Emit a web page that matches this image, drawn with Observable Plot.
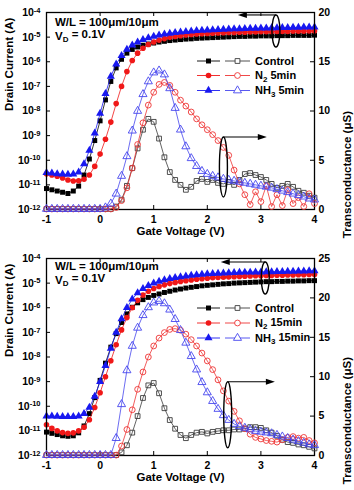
<!DOCTYPE html>
<html><head><meta charset="utf-8">
<script src="https://cdn.jsdelivr.net/npm/d3@7"></script>
<script src="https://cdn.jsdelivr.net/npm/@observablehq/plot@0.6"></script>
<style>
body{margin:0;background:#fff;}
.panel{position:relative;width:354px;height:245px;}
.panel svg{position:absolute;left:0;top:0;}
</style></head><body>
<div id="p1" class="panel"></div>
<div id="p2" class="panel"></div>
<script>
// ---------- data ----------
const gateV = [-1,-0.9,-0.8,-0.7,-0.6,-0.5,-0.4,-0.3,-0.2,-0.1,0,0.1,0.2,0.3,0.4,0.5,0.6,0.7,0.8,0.9,1,1.1,1.2,1.3,1.4,1.5,1.6,1.7,1.8,1.9,2,2.1,2.2,2.3,2.4,2.5,2.6,2.7,2.8,2.9,3,3.1,3.2,3.3,3.4,3.5,3.6,3.7,3.8,3.9,4];
const xTickValues = [-1,0,1,2,3,4];
const idTickValues = [1e-12,1e-11,1e-10,1e-9,1e-8,1e-7,1e-6,1e-5,1e-4];
const gmTicksTop = [0,5,10,15,20];
const gmTicksBottom = [0,5,10,15,20,25];

// top panel: drain current, log10(A)
const topIdControl = [-11.15,-11.2,-11.25,-11.3,-11.35,-11.25,-11.05,-10.6,-9.95,-9.2,-8.4,-7.55,-6.8,-6.25,-5.9,-5.65,-5.5,-5.4,-5.33,-5.28,-5.24,-5.2,-5.17,-5.14,-5.12,-5.1,-5.08,-5.07,-5.05,-5.04,-5.03,-5.02,-5.01,-5.0,-4.99,-4.98,-4.97,-4.97,-4.96,-4.96,-4.95,-4.95,-4.95,-4.94,-4.94,-4.94,-4.93,-4.93,-4.93,-4.93,-4.92];
const topIdN2 = [-10.55,-10.6,-10.65,-10.72,-10.8,-10.84,-10.83,-10.77,-10.6,-10.25,-9.75,-9.15,-8.45,-7.7,-7.0,-6.4,-5.95,-5.65,-5.45,-5.3,-5.2,-5.12,-5.06,-5.01,-4.97,-4.94,-4.91,-4.89,-4.87,-4.86,-4.85,-4.84,-4.83,-4.82,-4.81,-4.81,-4.8,-4.8,-4.79,-4.79,-4.78,-4.78,-4.78,-4.77,-4.77,-4.77,-4.76,-4.76,-4.76,-4.75,-4.75];
const topIdNH3 = [-10.5,-10.52,-10.55,-10.57,-10.58,-10.57,-10.48,-10.15,-9.6,-8.9,-8.1,-7.3,-6.6,-6.1,-5.75,-5.5,-5.33,-5.2,-5.1,-5.03,-4.97,-4.92,-4.88,-4.85,-4.82,-4.8,-4.78,-4.76,-4.74,-4.73,-4.72,-4.71,-4.7,-4.69,-4.68,-4.67,-4.67,-4.66,-4.65,-4.65,-4.64,-4.64,-4.63,-4.63,-4.62,-4.62,-4.61,-4.61,-4.6,-4.6,-4.6];
// top panel: transconductance (uS)
const topGmControl = [0.05,0.05,0.05,0.05,0.05,0.05,0.05,0.05,0.05,0.05,0.05,0.05,0.05,0.3,1.0,2.4,4.2,6.2,8.1,9.2,8.9,7.2,5.3,3.8,3.0,2.5,2.0,2.3,2.9,3.1,2.8,3.0,2.7,2.6,2.8,2.5,3.0,3.6,3.7,3.5,3.3,3.0,2.6,2.2,2.4,2.6,2.3,1.9,1.7,1.4,1.2];
const topGmN2 = [0.05,0.05,0.05,0.05,0.05,0.05,0.05,0.05,0.05,0.05,0.05,0.05,0.05,0.2,0.9,2.2,4.2,6.6,8.8,10.6,11.9,12.7,12.9,12.6,11.9,11.1,10.5,9.9,9.2,8.6,8.1,7.6,7.0,6.3,5.5,4.0,2.6,1.5,0.5,1.8,0.8,2.4,0.3,1.5,0.4,2.0,0.6,1.2,0.3,1.6,0.6];
const topGmNH3 = [0.05,0.05,0.05,0.05,0.05,0.05,0.05,0.05,0.05,0.05,0.05,0.2,0.6,1.6,3.4,5.4,8.0,10.0,11.7,13.0,13.9,14.1,13.7,12.3,10.3,8.1,6.4,5.2,4.4,3.9,3.6,3.4,3.25,3.1,3.0,2.9,2.8,2.7,2.6,2.5,2.4,2.3,2.2,2.05,1.9,1.75,1.6,1.45,1.3,1.1,1.0];

// bottom panel: drain current, log10(A)
const botIdControl = [-11.05,-11.1,-11.15,-11.2,-11.22,-11.2,-11.08,-10.8,-10.3,-9.65,-8.95,-8.25,-7.6,-7.05,-6.6,-6.25,-5.98,-5.8,-5.67,-5.58,-5.5,-5.44,-5.38,-5.33,-5.28,-5.24,-5.2,-5.17,-5.14,-5.11,-5.09,-5.07,-5.05,-5.03,-5.02,-5.0,-4.99,-4.98,-4.97,-4.96,-4.95,-4.94,-4.94,-4.93,-4.93,-4.92,-4.92,-4.91,-4.91,-4.9,-4.9];
const botIdN2 = [-10.75,-10.9,-11.0,-11.07,-11.1,-11.08,-11.0,-10.85,-10.55,-10.05,-9.45,-8.8,-8.15,-7.5,-6.9,-6.4,-6.0,-5.7,-5.48,-5.33,-5.22,-5.14,-5.07,-5.02,-4.97,-4.93,-4.9,-4.87,-4.84,-4.82,-4.8,-4.78,-4.77,-4.76,-4.75,-4.74,-4.73,-4.72,-4.71,-4.7,-4.7,-4.69,-4.69,-4.68,-4.68,-4.67,-4.67,-4.66,-4.66,-4.65,-4.65];
const botIdNH3 = [-10.4,-10.4,-10.41,-10.42,-10.42,-10.42,-10.4,-10.3,-10.05,-9.6,-9.0,-8.35,-7.65,-7.0,-6.45,-6.0,-5.65,-5.4,-5.22,-5.1,-5.0,-4.93,-4.87,-4.82,-4.78,-4.75,-4.72,-4.69,-4.67,-4.65,-4.63,-4.62,-4.61,-4.6,-4.59,-4.58,-4.57,-4.56,-4.56,-4.55,-4.55,-4.54,-4.54,-4.53,-4.53,-4.52,-4.52,-4.51,-4.51,-4.5,-4.5];
// bottom panel: transconductance (uS)
const botGmControl = [0.05,0.05,0.05,0.05,0.05,0.05,0.05,0.05,0.05,0.05,0.05,0.05,0.05,0.05,0.4,1.3,2.9,5.0,7.3,8.9,9.2,7.9,6.0,4.5,3.4,2.6,2.2,2.6,2.9,3.0,2.8,3.0,3.1,3.2,3.2,3.3,3.3,3.4,3.6,3.6,3.5,3.2,2.9,2.5,2.0,1.7,1.6,1.4,1.3,1.1,0.9];
const botGmN2 = [0.05,0.05,0.05,0.05,0.05,0.05,0.05,0.05,0.05,0.05,0.05,0.05,0.05,0.05,1.2,3.3,5.8,8.4,10.6,12.5,13.9,14.9,15.6,16.0,16.1,15.9,15.4,14.7,13.9,13.0,12.0,10.9,9.6,8.2,6.9,5.6,4.4,3.4,2.7,2.3,2.1,1.9,1.8,1.7,2.0,2.3,2.4,2.2,2.3,1.9,1.6];
const botGmNH3 = [0.05,0.05,0.05,0.05,0.05,0.05,0.05,0.05,0.05,0.05,0.05,0.05,0.05,2.2,6.5,10.8,13.9,16.2,17.8,18.8,19.4,19.6,19.3,18.5,17.3,15.9,14.3,12.6,10.9,9.3,8.0,6.9,5.9,5.1,4.5,4.0,3.7,3.5,3.3,3.1,3.0,2.9,2.8,2.6,2.4,2.2,2.0,1.8,1.6,1.4,1.3];

const legendTop = [["Control"],["N","2"," 5min"],["NH","3"," 5min"]];
const legendBottom = [["Control"],["N","2"," 15min"],["NH","3"," 15min"]];

// ---------- drawing ----------
const FONT = '"Liberation Sans", Arial, Helvetica, sans-serif';
const SERIES = [
  {fill:"#000000", open:"#3c3c3c", symbol:"square",   d3sym:d3.symbolSquare,   rf:2.8, ro:2.7},
  {fill:"#f01818", open:"#ee3434", symbol:"circle",   d3sym:d3.symbolCircle,   rf:2.8, ro:2.9},
  {fill:"#1818f0", open:"#4646ee", symbol:"triangle", d3sym:d3.symbolTriangle, rf:3.0, ro:3.0}
];

function drawPanel(host, cfg) {
  const W = 354, H = 245, ml = 46, mr = 40, mt = cfg.mt, mb = cfg.mb;
  const iw = W - ml - mr, ih = H - mt - mb;
  const dims = {width: W, height: H, marginLeft: ml, marginRight: mr, marginTop: mt, marginBottom: mb};
  const font = {fontFamily: FONT, fontWeight: "bold", fontSize: "10.5px", overflow: "visible", color: "black"};
  const idMarks = [], gmMarks = [];
  SERIES.forEach((s, k) => {
    const idData = gateV.map((v, i) => ({V: v, I: Math.pow(10, cfg.id[k][i])}));
    const gmData = gateV.map((v, i) => ({V: v, G: cfg.gm[k][i]}));
    idMarks.push(Plot.line(idData, {x: "V", y: "I", stroke: s.fill, strokeWidth: 0.8}));
    idMarks.push(Plot.dot(idData, {x: "V", y: "I", symbol: s.symbol, r: s.rf, fill: s.fill, stroke: "none"}));
    gmMarks.push(Plot.line(gmData, {x: "V", y: "G", stroke: s.open, strokeWidth: 0.8}));
    gmMarks.push(Plot.dot(gmData, {x: "V", y: "G", symbol: s.symbol, r: s.ro, fill: "none", stroke: s.open, strokeWidth: 0.9}));
  });

  const idPlot = Plot.plot({
    ...dims, style: {...font, background: "white"},
    x: {domain: [-1, 4]},
    y: {type: "log", domain: [1e-12, 1e-4]},
    marks: [
      Plot.axisX(xTickValues, {tickSize: 0, tickPadding: 6, tickFormat: d => String(d), label: null}),
      Plot.axisY(idTickValues, {tickSize: 0, tickPadding: 6, tickFormat: d => "10|" + Math.round(Math.log10(d)), label: null}),
      Plot.ruleX(xTickValues, {insetTop: ih - 4, stroke: "black"}),
      Plot.ruleX(xTickValues, {insetBottom: ih - 4, stroke: "black"}),
      Plot.ruleY(idTickValues, {insetRight: iw - 4, stroke: "black"}),
      ...idMarks,
      Plot.frame({stroke: "black", strokeWidth: 1.3}),
      Plot.text(["Drain Current (A)"], {frameAnchor: "left", dx: -37, rotate: -90, fontSize: 11.5}),
      Plot.text(["Gate Voltage (V)"], {frameAnchor: "bottom", dy: 25, fontSize: 11.5})
    ]
  });
  d3.select(idPlot).selectAll('g[aria-label="y-axis tick label"] text').each(function () {
    const t = d3.select(this);
    const parts = t.text().split("|");
    t.text(parts[0]);
    t.append("tspan").attr("dy", "-0.42em").attr("font-size", "7.5px").text(parts[1]);
  });

  const gmPlot = Plot.plot({
    ...dims, style: {...font, background: "transparent"},
    x: {domain: [-1, 4], axis: null},
    y: {domain: [0, cfg.gmMax]},
    marks: [
      Plot.axisY(cfg.gmTicks, {anchor: "right", tickSize: 0, tickPadding: 4, label: null}),
      Plot.ruleY(cfg.gmTicks, {insetLeft: iw - 4, stroke: "black"}),
      ...gmMarks,
      Plot.text(["Transconductance (μS)"], {frameAnchor: "right", dx: 33, rotate: -90, fontSize: 11.5})
    ]
  });

  host.appendChild(idPlot);
  host.appendChild(gmPlot);

  const sx = gmPlot.scale("x"), sg = gmPlot.scale("y"), si = idPlot.scale("y");
  const svg = d3.select(gmPlot);
  const ann = svg.append("g");
  function loop(cx, cy, ry, tx) {
    ann.append("ellipse").attr("cx", cx).attr("cy", cy).attr("rx", 4).attr("ry", ry)
      .attr("fill", "none").attr("stroke", "black").attr("stroke-width", 1.4);
    const ay = cy - ry, dir = Math.sign(tx - cx);
    ann.append("line").attr("x1", cx).attr("y1", ay).attr("x2", tx - dir * 7).attr("y2", ay)
      .attr("stroke", "black").attr("stroke-width", 1.1);
    ann.append("path").attr("d", `M${tx},${ay}L${tx - dir * 9},${ay - 3}L${tx - dir * 9},${ay + 3}Z`).attr("fill", "black");
  }
  const a = cfg.idLoop, b = cfg.gmLoop;
  loop(sx.apply(a.V), si.apply(a.I), a.ry, sx.apply(a.toV));
  loop(sx.apply(b.V), sg.apply(b.G), b.ry, sx.apply(b.toV));

  // legend
  const lg = svg.append("g").attr("font-family", FONT).attr("font-weight", "bold").attr("font-size", "11px").attr("text-anchor", "start");
  cfg.legend.forEach((lab, k) => {
    const s = SERIES[k], y = mt + cfg.legendRows[k];
    lg.append("line").attr("x1", 197).attr("x2", 220).attr("y1", y).attr("y2", y).attr("stroke", s.fill).attr("stroke-width", 0.9);
    lg.append("line").attr("x1", 225).attr("x2", 250).attr("y1", y).attr("y2", y).attr("stroke", s.open).attr("stroke-width", 0.9);
    lg.append("path").attr("transform", `translate(208.5,${y})`).attr("d", d3.symbol(s.d3sym, s.rf * s.rf * Math.PI)()).attr("fill", s.fill);
    lg.append("path").attr("transform", `translate(237.5,${y})`).attr("d", d3.symbol(s.d3sym, s.ro * s.ro * Math.PI)()).attr("fill", "white").attr("stroke", s.open).attr("stroke-width", 0.9);
    const t = lg.append("text").attr("x", 255).attr("y", y).attr("dy", "0.36em");
    t.append("tspan").text(lab[0]);
    if (lab.length > 1) {
      t.append("tspan").attr("dy", "0.3em").attr("font-size", "8px").text(lab[1]);
      t.append("tspan").attr("dy", "-0.3em").text(lab[2]);
    }
  });

  // device conditions
  const info = svg.append("g").attr("font-family", FONT).attr("font-weight", "bold").attr("font-size", "11.5px").attr("text-anchor", "start");
  info.append("text").attr("x", 55).attr("y", mt + cfg.infoY[0]).text("W/L = 100μm/10μm");
  const vd = info.append("text").attr("x", 55).attr("y", mt + cfg.infoY[1]);
  vd.append("tspan").text("V");
  vd.append("tspan").attr("dy", "0.3em").attr("font-size", "8px").text("D");
  vd.append("tspan").attr("dy", "-0.3em").text(" = 0.1V");
}

drawPanel(document.getElementById("p1"), {
  mt: 12, mb: 36,
  id: [topIdControl, topIdN2, topIdNH3],
  gm: [topGmControl, topGmN2, topGmNH3],
  gmMax: 20, gmTicks: gmTicksTop,
  legend: legendTop, legendRows: [49, 63.5, 78.5], infoY: [13.5, 27.5],
  idLoop: {V: 3.29, I: 1.7e-5, ry: 16, toV: 2.58},
  gmLoop: {V: 2.31, G: 4.26, ry: 30, toV: 3.12}
});
drawPanel(document.getElementById("p2"), {
  mt: 13, mb: 35,
  id: [botIdControl, botIdN2, botIdNH3],
  gm: [botGmControl, botGmN2, botGmNH3],
  gmMax: 25, gmTicks: gmTicksBottom,
  legend: legendBottom, legendRows: [50, 65, 80], infoY: [11.5, 25.5],
  idLoop: {V: 3.09, I: 1.55e-5, ry: 16, toV: 2.26},
  gmLoop: {V: 2.39, G: 5.1, ry: 33, toV: 3.27}
});
</script>
</body></html>
